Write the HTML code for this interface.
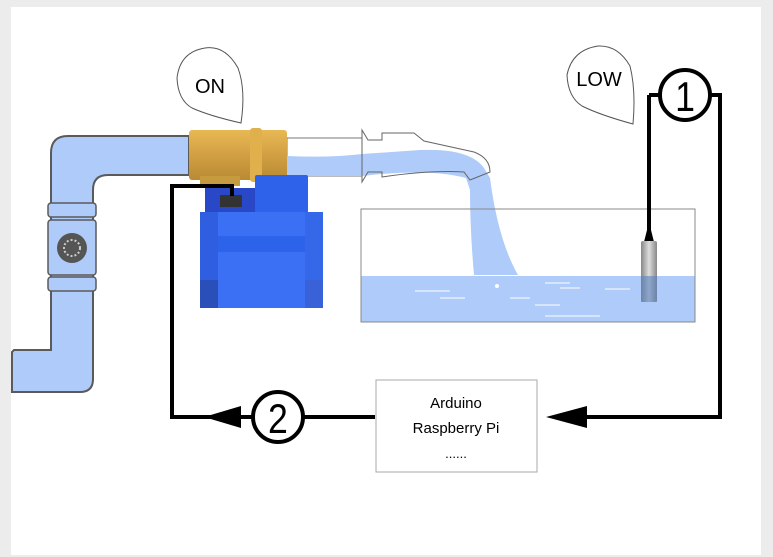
<!DOCTYPE html>
<html><head><meta charset="utf-8"><style>
html,body{margin:0;padding:0;background:#ececec;}
svg{display:block;}
text{font-family:"Liberation Sans","DejaVu Sans",sans-serif;}
</style></head><body>
<svg width="773" height="557" viewBox="0 0 773 557" xmlns="http://www.w3.org/2000/svg">
<rect x="0" y="0" width="773" height="557" fill="#ececec"/>
<rect x="11" y="7" width="750" height="548" fill="#fff"/>
<defs>
<linearGradient id="brass" x1="0" y1="0" x2="0" y2="1">
<stop offset="0" stop-color="#e8b954"/><stop offset="0.5" stop-color="#d2a043"/><stop offset="1" stop-color="#b98a33"/></linearGradient>
<linearGradient id="probe" x1="0" y1="0" x2="1" y2="0">
<stop offset="0" stop-color="#888"/><stop offset="0.5" stop-color="#ddd"/><stop offset="1" stop-color="#888"/></linearGradient>
</defs>
<!-- pipe -->
<path d="M189,136 L68,136 Q51,136 51,153 L51,350 L14,350 L12,352 L12,392 L80,392 Q93,392 93,379 L93,190 Q93,175 108,175 L189,175 Z" fill="#aecbf9" stroke="#5a5a5a" stroke-width="2"/>
<rect x="48" y="203" width="48" height="14" rx="3" fill="#aecbf9" stroke="#5a5a5a" stroke-width="1.5"/>
<rect x="48" y="220" width="48" height="55" rx="3" fill="#aecbf9" stroke="#5a5a5a" stroke-width="1.5"/>
<rect x="48" y="277" width="48" height="14" rx="3" fill="#aecbf9" stroke="#5a5a5a" stroke-width="1.5"/>
<circle cx="72" cy="248" r="15" fill="#555"/>
<circle cx="72" cy="248" r="8" fill="none" stroke="#ccc" stroke-width="2" stroke-dasharray="2 2"/>
<!-- clear pipe and water -->
<rect x="287" y="138" width="75" height="38" fill="#fff" stroke="#777" stroke-width="1"/>
<path d="M287,156 Q330,158 362,154 L420,150 Q470,148 484,168 L490,178 Q498,240 518,275 L474,275 Q470,230 470,190 L466,178 Q430,168 362,176 L287,176 Z" fill="#aecbf9"/>
<path d="M362,130 L368,140 L382,140 L382,133 L414,133 L424,141 L474,152 Q490,158 490,172 L470,180 L464,172 Q430,170 382,177 L382,172 L368,172 L362,182 Z" fill="none" stroke="#666" stroke-width="1"/>
<!-- brass valve -->
<rect x="189" y="130" width="98" height="50" rx="3" fill="url(#brass)"/>
<rect x="250" y="128" width="12" height="54" rx="3" fill="#e0b04c"/>
<rect x="200" y="176" width="40" height="10" fill="#c69a3e"/>
<!-- actuator -->
<rect x="205" y="188" width="55" height="26" fill="#2848c8"/>
<rect x="255" y="175" width="53" height="38" rx="2" fill="#2e62ea"/>
<rect x="200" y="212" width="123" height="96" rx="2" fill="#3b70f5"/>
<rect x="200" y="212" width="18" height="96" fill="#2f5ee0"/>
<rect x="305" y="212" width="18" height="96" fill="#3568e8"/>
<rect x="218" y="236" width="87" height="16" fill="#2d62ea"/>
<rect x="200" y="280" width="18" height="28" fill="#2a4fb8"/>
<rect x="305" y="280" width="18" height="28" fill="#3a62d8"/>
<rect x="220" y="195" width="22" height="12" fill="#333"/>
<!-- tank -->
<rect x="361" y="276" width="334" height="46" fill="#aecbf9"/>
<rect x="361" y="209" width="334" height="113" fill="none" stroke="#888" stroke-width="1"/>
<g stroke="#fff" stroke-width="1">
<line x1="415" y1="291" x2="450" y2="291"/><line x1="440" y1="298" x2="465" y2="298"/>
<line x1="510" y1="298" x2="530" y2="298"/><line x1="545" y1="283" x2="570" y2="283"/>
<line x1="535" y1="305" x2="560" y2="305"/><line x1="605" y1="289" x2="630" y2="289"/>
<line x1="545" y1="316" x2="600" y2="316"/><line x1="560" y1="288" x2="580" y2="288"/></g>
<circle cx="497" cy="286" r="2" fill="#fff"/>
<!-- probe -->
<line x1="649" y1="95" x2="649" y2="232" stroke="#000" stroke-width="4"/>
<path d="M647,230 L651,230 L654,242 L644,242 Z" fill="#000"/>
<rect x="641" y="241" width="16" height="61" rx="2" fill="url(#probe)"/>
<rect x="641" y="276" width="16" height="26" fill="#5c82c0" opacity="0.6"/>
<!-- wires -->
<g fill="none" stroke="#000" stroke-width="4">
<path d="M649,95 L660,95"/>
<path d="M710,95 L720,95 L720,417 L580,417"/>
<path d="M375,417 L304,417"/><path d="M252,417 L172,417 L172,186 L232,186 L232,196"/>
</g>
<circle cx="685" cy="95" r="25" fill="#fff" stroke="#000" stroke-width="4"/>
<text x="685" y="111" font-size="42" text-anchor="middle" transform="translate(685 0) scale(0.85 1) translate(-685 0)">1</text>
<circle cx="278" cy="417" r="25" fill="#fff" stroke="#000" stroke-width="4"/>
<text x="278" y="433" font-size="42" text-anchor="middle" transform="translate(278 0) scale(0.85 1) translate(-278 0)">2</text>
<path d="M204,417 L241,406 L241,428 Z" fill="#000"/>
<path d="M546,417 L587,406 L587,428 Z" fill="#000"/>
<!-- box -->
<rect x="376" y="380" width="161" height="92" fill="#fff" stroke="#aaa" stroke-width="1"/>
<text x="456" y="408" font-size="15" text-anchor="middle">Arduino</text>
<text x="456" y="433" font-size="15" text-anchor="middle">Raspberry Pi</text>
<text x="456" y="458" font-size="13" text-anchor="middle">......</text>
<!-- bubbles -->
<path d="M241,123 Q246,90 238,68 Q225,45 205,48 Q180,52 177,78 Q178,100 192,108 Q210,116 241,123 Z" fill="#fff" stroke="#555" stroke-width="1"/>
<text x="210" y="93" font-size="20" text-anchor="middle">ON</text>
<path d="M633,124 Q636,90 630,66 Q618,45 598,46 Q572,50 567,75 Q568,97 582,106 Q600,115 633,124 Z" fill="#fff" stroke="#555" stroke-width="1"/>
<text x="599" y="86" font-size="20" text-anchor="middle">LOW</text>
</svg>
</body></html>
